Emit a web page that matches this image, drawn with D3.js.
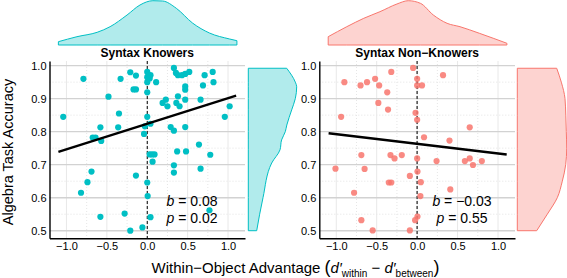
<!DOCTYPE html>
<html>
<head>
<meta charset="utf-8" />
<title>Algebra task accuracy by within-object advantage</title>
<style>
    body { margin: 0; background: #fff; }
    svg text { font-family: "Liberation Sans", Arial, Helvetica, sans-serif; fill: #000; }
</style>
<script src="https://cdn.jsdelivr.net/npm/d3@7"></script>
</head>
<body>
<div id="chart"></div>
<script>
var width = 567, height = 278;

// Syntax Knowers: within-object advantage vs accuracy
var knowX = [-1.04, -0.79, -0.58, -0.675, -0.64, -0.57, -0.35, -0.36, -0.48, -0.33, -0.21, -0.14, -0.17, -0.14,
    0, 0, 0.04, 0.03, 0, 0.11, 0, 0, 0.04, -0.03, -0.04,
    0.33, 0.355, 0.38, 0.43, 0.47, 0.52, 0.71, 0.81, 0.82, 0.69, 0.47, 0.47, 0.23, 0.19, 0.25, 0.38, 0.36, 0.40,
    0.47, 0.66, 1.02, 0.96, 0.29, 0.33, 0.47, 0.64,
    0.03, 0.06, 0.09, 0.066, 0.37, 0.48, 0.78, 0.66, 0.33, 0.33, -0.69, -0.74, -0.82, -0.14, 0, 0.005,
    -0.58, -0.28, 0.04, -0.21, -0.06, 0.77];
var knowY = [0.845, 0.96, 0.813, 0.782, 0.782, 0.772, 0.855, 0.813, 0.906, 0.96, 0.98, 0.97, 0.928, 0.928,
    0.981, 0.965, 0.971, 0.961, 0.95, 0.95, 0.919, 0.845, 0.824, 0.816, 0.793,
    0.993, 0.978, 0.971, 0.971, 0.975, 0.981, 0.971, 0.981, 0.95, 0.94, 0.937, 0.927, 0.897, 0.887, 0.877, 0.907, 0.887, 0.877,
    0.897, 0.897, 0.877, 0.845, 0.814, 0.803, 0.814, 0.761,
    0.731, 0.731, 0.731, 0.709, 0.74, 0.74, 0.73, 0.688, 0.698, 0.676, 0.679, 0.647, 0.615, 0.667, 0.646, 0.605,
    0.542, 0.552, 0.541, 0.5, 0.51, 0.562];

// Syntax Non-Knowers
var nonX = [-0.94, -0.90, -0.70, -0.62, -0.52, -0.47, -0.37, -0.48, -0.36, -0.32, -0.05, 0, 0, 0.06, -0.02, 0, 0.32, 0.65, 0.085, 0.40,
    -1.01, -0.69, -0.65, -0.33, -0.28, -0.19, 0, 0.24, 0.59, 0.65, 0.69, 0.80, -0.09, 0.004, -0.35, -0.32, 0.045, 0.04, 0.41, -0.78,
    -0.69, -0.55, -0.09, -0.025, 0.004];
var nonY = [0.845, 0.95, 0.94, 0.95, 0.96, 0.94, 0.919, 0.887, 0.867, 0.981, 0.993, 0.96, 0.94, 0.94, 0.857, 0.836, 0.971, 0.813, 0.783, 0.773,
    0.688, 0.729, 0.687, 0.729, 0.719, 0.729, 0.719, 0.711, 0.711, 0.719, 0.699, 0.711, 0.666, 0.679, 0.646, 0.646, 0.647, 0.605, 0.625, 0.615,
    0.532, 0.501, 0.501, 0.532, 0.543];

// fitted lines (end points)
var knowFitX = [-1.10, 1.10], knowFitY = [0.739, 0.909];
var nonFitX = [-1.095, 1.107], nonFitY = [0.795, 0.731];

// marginal densities (relative heights)
var knowTopX = [-1.10, -0.87, -0.62, -0.46, -0.25, -0.09, 0.07, 0.19, 0.36, 0.56, 0.77, 1.02, 1.11];
var knowTopD = [3.3, 8.3, 12.7, 18.3, 30, 40, 44.3, 44, 36.7, 22, 12, 6, 4.3];
var nonTopX = [-1.10, -0.87, -0.66, -0.46, -0.25, -0.11, 0.04, 0.20, 0.37, 0.53, 0.77, 1.11];
var nonTopD = [8.3, 18.3, 26.7, 33.3, 41, 44.3, 41.7, 30, 21.7, 18.3, 11.7, 1.7];
var knowSideY = [0.50, 0.60, 0.705, 0.745, 0.775, 0.80, 0.82, 0.866, 0.90, 0.936, 0.95, 0.992];
var knowSideD = [8.4, 14.7, 23.4, 31.7, 33.3, 37, 38.5, 43.4, 47, 48.4, 47, 38.4];
var nonSideY = [0.50, 0.55, 0.60, 0.65, 0.70, 0.75, 0.80, 0.85, 0.90, 0.95, 0.992];
var nonSideD = [19.4, 30, 40, 45, 48.4, 49.4, 49, 48.5, 47.7, 44, 39.4];

var xTicks = [-1, -0.5, 0, 0.5, 1];
var xMinor = [-0.75, -0.25, 0.25, 0.75];
var yTicks = [0.5, 0.6, 0.7, 0.8, 0.9, 1.0];
var yMinor = [0.55, 0.65, 0.75, 0.85, 0.95];

var svg = d3.select('#chart').append('svg')
    .attr('width', width)
    .attr('height', height);

var plotTop = 61, plotBottom = 238.3;

var y = d3.scaleLinear().domain([0.477, 1.014]).range([plotBottom, plotTop]);
var dTop = d3.scaleLinear().domain([0, 45]).range([45, 0]);
var dSide = d3.scaleLinear().domain([0, 50]).range([0, 50]);

var panels = [
    { title: 'Syntax Knowers', xs: knowX, ys: knowY, fitX: knowFitX, fitY: knowFitY,
      topX: knowTopX, topD: knowTopD, sideY: knowSideY, sideD: knowSideD,
      color: '#00BFC4', fill: '#b1ebec', opacity: 1, left: 49.5, right: 245, sideBase: 248.3,
      zeroColor: '#000', zeroWidth: 1, b: '0.08', p: '0.02', statX: 192 },
    { title: 'Syntax Non\u2212Knowers', xs: nonX, ys: nonY, fitX: nonFitX, fitY: nonFitY,
      topX: nonTopX, topD: nonTopD, sideY: nonSideY, sideD: nonSideD,
      color: '#F8766D', fill: '#fdd3d0', opacity: 0.85, left: 319.3, right: 515, sideBase: 517.3,
      zeroColor: '#555', zeroWidth: 1.6, b: '\u22120.03', p: '0.55', statX: 462 }
];

panels.forEach(function(pn) {
    var x = d3.scaleLinear().domain([-1.21, 1.21]).range([pn.left, pn.right]);
    var g = svg.append('g');

    // top marginal density
    var topArea = d3.area()
        .x(function(d, i) { return x(pn.topX[i]); })
        .y0(dTop(0))
        .y1(function(d) { return dTop(d); })
        .curve(d3.curveMonotoneX);
    g.append('path')
        .attr('d', topArea(pn.topD) + 'Z')
        .attr('fill', pn.fill)
        .attr('stroke', pn.color)
        .attr('stroke-width', 1);

    // side marginal density
    var sideArea = d3.area()
        .y(function(d, i) { return y(pn.sideY[i]); })
        .x0(pn.sideBase)
        .x1(function(d) { return pn.sideBase + dSide(d); })
        .curve(d3.curveMonotoneY);
    g.append('path')
        .attr('d', sideArea(pn.sideD) + 'Z')
        .attr('fill', pn.fill)
        .attr('stroke', pn.color)
        .attr('stroke-width', 1);

    // grid
    g.selectAll('.ymin').data(yMinor).enter().append('line')
        .attr('x1', pn.left).attr('x2', pn.right)
        .attr('y1', d => y(d)).attr('y2', d => y(d))
        .attr('stroke', '#e2e2e2').attr('stroke-dasharray', '1,2');
    g.selectAll('.xmin').data(xMinor).enter().append('line')
        .attr('x1', d => x(d)).attr('x2', d => x(d))
        .attr('y1', plotTop).attr('y2', plotBottom)
        .attr('stroke', '#e6e6e6').attr('stroke-dasharray', '1,2');
    g.selectAll('.xmaj').data(xTicks).enter().append('line')
        .attr('x1', d => x(d)).attr('x2', d => x(d))
        .attr('y1', plotTop).attr('y2', plotBottom)
        .attr('stroke', '#e8e8e8').attr('stroke-width', 1);
    g.selectAll('.ymaj').data(yTicks).enter().append('line')
        .attr('x1', pn.left).attr('x2', pn.right)
        .attr('y1', d => y(d)).attr('y2', d => y(d))
        .attr('stroke', '#d2d2d2').attr('stroke-width', 1.4);

    // zero reference line
    g.append('line')
        .attr('x1', x(0)).attr('x2', x(0))
        .attr('y1', plotTop).attr('y2', plotBottom)
        .attr('stroke', pn.zeroColor)
        .attr('stroke-width', pn.zeroWidth)
        .attr('stroke-dasharray', '3,2');

    // points
    g.selectAll('.pt').data(pn.xs).enter().append('circle')
        .attr('cx', d => x(d))
        .attr('cy', (d, i) => y(pn.ys[i]))
        .attr('r', 3.1)
        .attr('fill', pn.color)
        .attr('fill-opacity', pn.opacity);

    // fitted line
    g.append('line')
        .attr('x1', x(pn.fitX[0])).attr('y1', y(pn.fitY[0]))
        .attr('x2', x(pn.fitX[1])).attr('y2', y(pn.fitY[1]))
        .attr('stroke', '#000')
        .attr('stroke-width', 2.4);

    // axes
    var gx = g.append('g')
        .attr('transform', 'translate(0,' + plotBottom + ')')
        .call(d3.axisBottom(x).tickValues(xTicks).tickFormat(d3.format('.1f')).tickSize(0).tickPadding(4));
    var gy = g.append('g')
        .attr('transform', 'translate(' + pn.left + ',0)')
        .call(d3.axisLeft(y).tickValues(yTicks).tickFormat(d3.format('.1f')).tickSize(0).tickPadding(3));
    [gx, gy].forEach(function(a) {
        a.select('.domain').attr('stroke', '#000').attr('stroke-width', 1.4);
        a.selectAll('text').attr('font-size', 11).attr('fill', '#000')
            .style('font-family', '"Liberation Sans", Arial, sans-serif');
    });

    // panel title
    g.append('text')
        .attr('x', x(0)).attr('y', 57)
        .attr('text-anchor', 'middle')
        .attr('font-size', 12)
        .attr('font-weight', 'bold')
        .text(pn.title);

    // stats
    var sb = g.append('text').attr('x', pn.statX).attr('y', 206)
        .attr('text-anchor', 'middle').attr('font-size', 14);
    sb.append('tspan').attr('font-style', 'italic').text('b');
    sb.append('tspan').text(' = ' + pn.b);
    var sp = g.append('text').attr('x', pn.statX).attr('y', 223)
        .attr('text-anchor', 'middle').attr('font-size', 14);
    sp.append('tspan').attr('font-style', 'italic').text('p');
    sp.append('tspan').text(' = ' + pn.p);
});

// axis titles
svg.append('text')
    .attr('transform', 'translate(13,152) rotate(-90)')
    .attr('text-anchor', 'middle')
    .attr('font-size', 14.5)
    .text('Algebra Task Accuracy');

var xt = svg.append('text')
    .attr('x', 295.5).attr('y', 273)
    .attr('text-anchor', 'middle')
    .attr('font-size', 15);
xt.append('tspan').text('Within\u2212Object Advantage ');
xt.append('tspan').attr('font-size', 18).text('(');
xt.append('tspan').attr('font-style', 'italic').text('d\u2032');
xt.append('tspan').attr('font-size', 10).attr('dy', 4).text('within');
xt.append('tspan').attr('dy', -4).text(' \u2212 ');
xt.append('tspan').attr('font-style', 'italic').text('d\u2032');
xt.append('tspan').attr('font-size', 10).attr('dy', 4).text('between');
xt.append('tspan').attr('font-size', 18).attr('dy', -4).text(')');
</script>
</body>
</html>
